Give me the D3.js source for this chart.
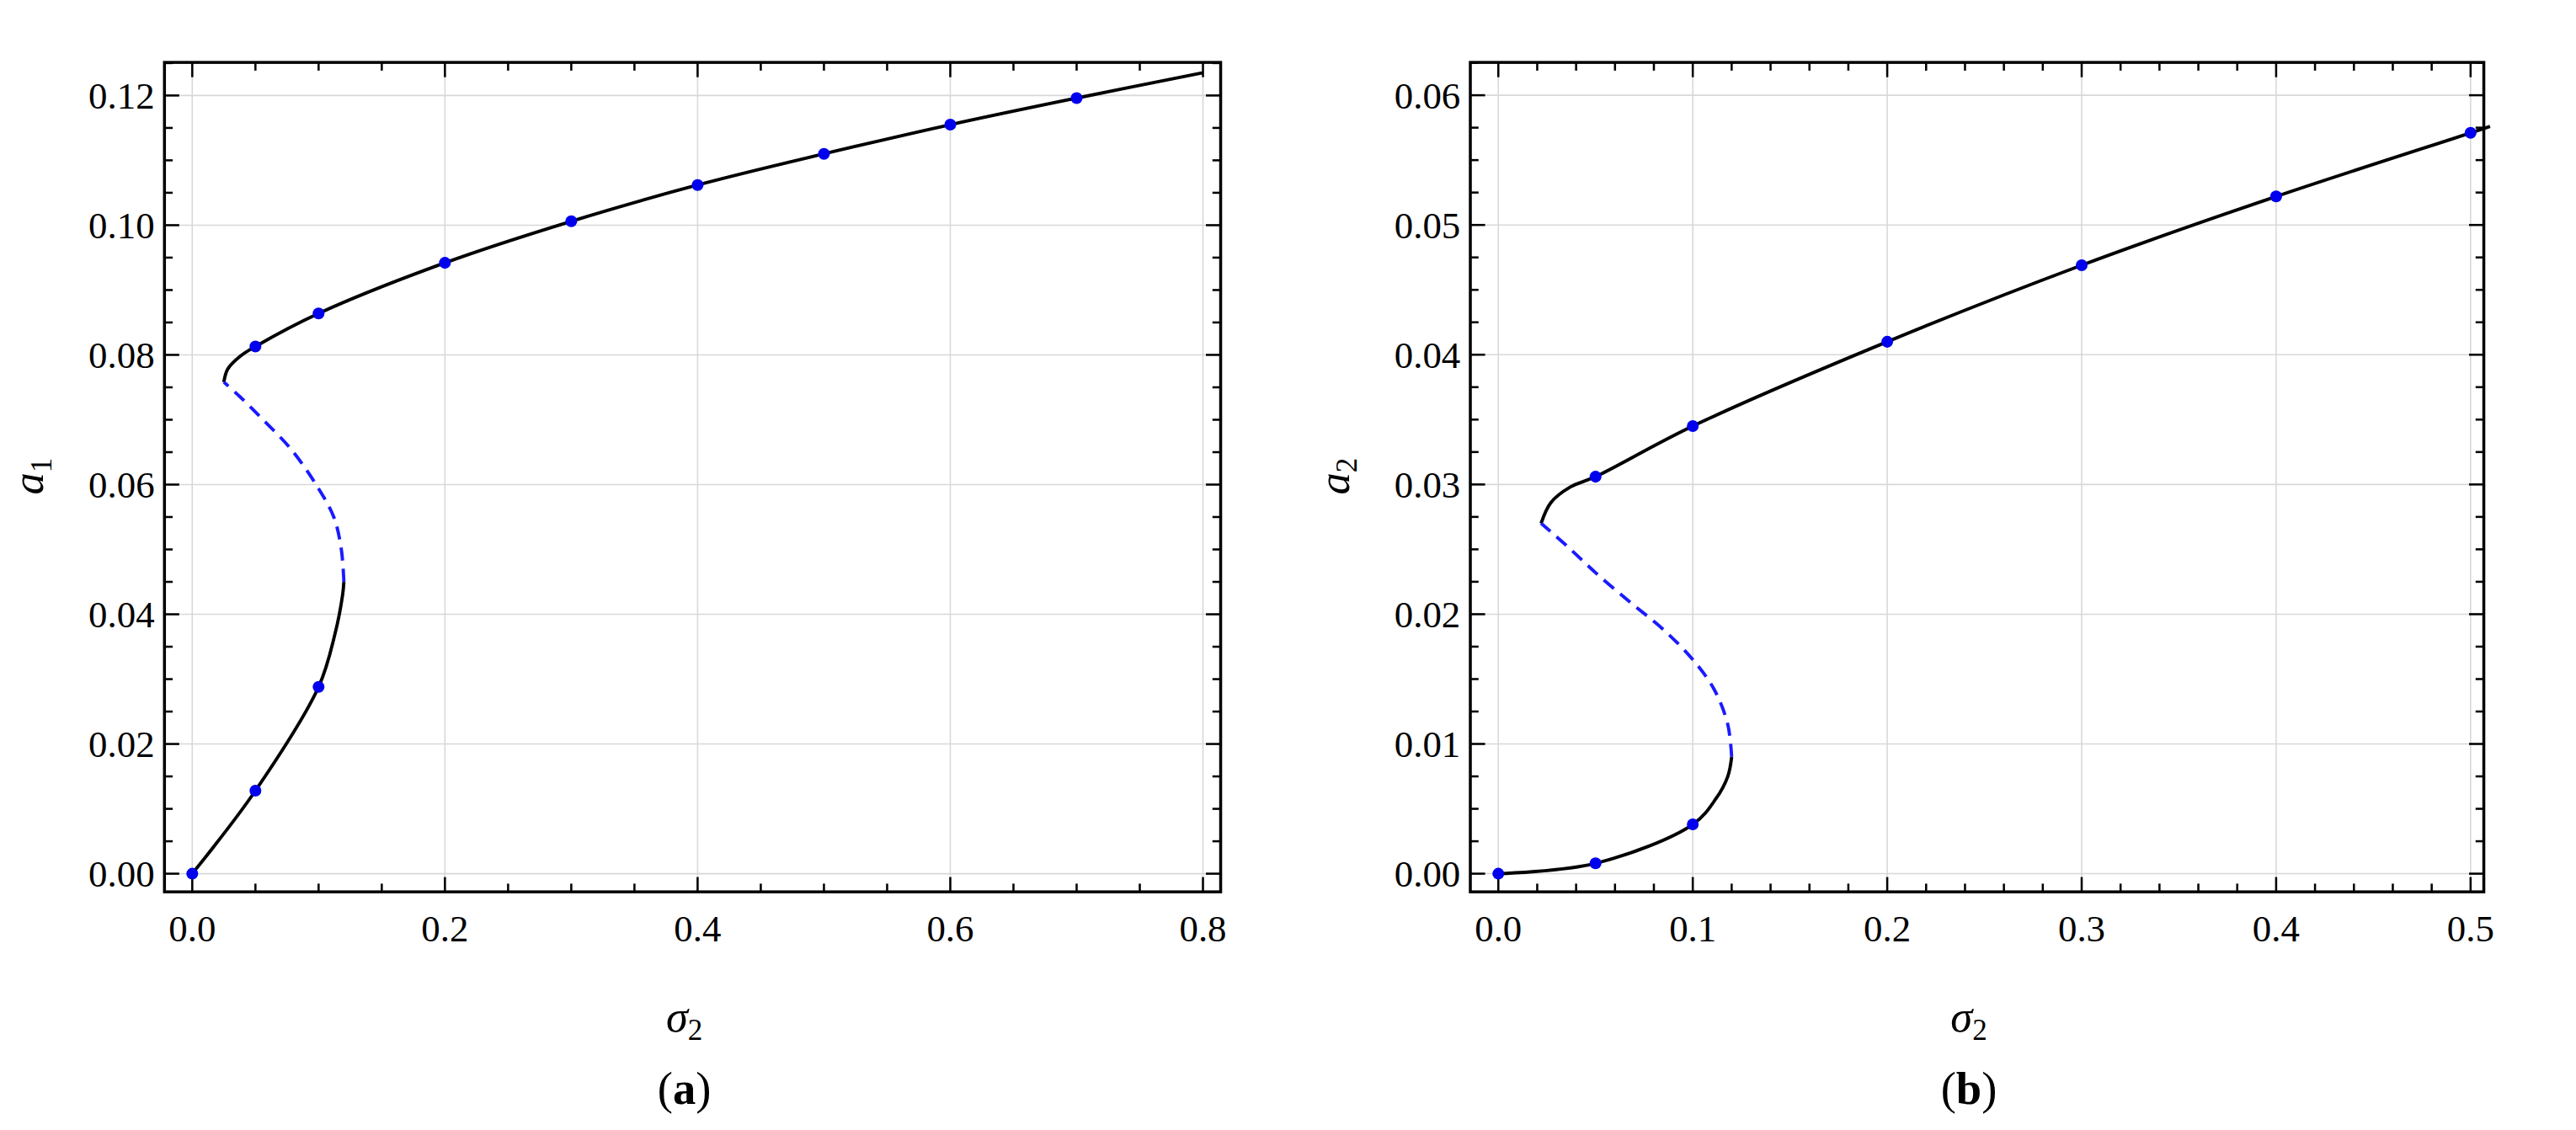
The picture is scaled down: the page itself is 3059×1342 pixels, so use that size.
<!DOCTYPE html>
<html><head><meta charset="utf-8">
<script src="https://cdn.jsdelivr.net/npm/d3@7"></script>
<style>body{margin:0;background:#fff} text{font-family:"Liberation Serif","Times New Roman",Tinos,"DejaVu Serif",serif}</style>
</head><body>
<svg id="fig" width="3059" height="1342" viewBox="0 0 1568 688"></svg>
<script>
// panel (a): a1 vs sigma2
var a1Lower = [[0,0],[0.05,0.0128],[0.1,0.0288],[0.113,0.037],[0.119,0.043],[0.12,0.045]];
var a1Unstable = [[0.12,0.045],[0.118,0.05],[0.112,0.055],[0.098,0.06],[0.078,0.0655],[0.056,0.07],[0.038,0.0735],[0.025,0.0758]];
var a1Upper = [[0.025,0.0758],[0.028,0.0778],[0.038,0.0798],[0.05,0.0813],[0.1,0.0864],[0.2,0.0942],[0.3,0.1006],[0.4,0.1062],[0.5,0.111],[0.6,0.1155],[0.7,0.1196],[0.8,0.1235]];
var a1Points = [[0,0],[0.05,0.0128],[0.1,0.0288],[0.05,0.0813],[0.1,0.0864],[0.2,0.0942],[0.3,0.1006],[0.4,0.1062],[0.5,0.111],[0.6,0.1155],[0.7,0.1196]];
var a1XTicks = [0,0.2,0.4,0.6,0.8];
var a1YTicks = [0,0.02,0.04,0.06,0.08,0.10,0.12];

// panel (b): a2 vs sigma2
var a2Lower = [[0,0],[0.05,0.0008],[0.1,0.0038],[0.112,0.0058],[0.118,0.0075],[0.12,0.009]];
var a2Unstable = [[0.12,0.009],[0.118,0.0115],[0.111,0.0142],[0.1,0.0165],[0.085,0.0188],[0.068,0.0209],[0.05,0.0232],[0.035,0.0253],[0.022,0.027]];
var a2Upper = [[0.022,0.027],[0.027,0.0286],[0.037,0.0298],[0.05,0.0306],[0.1,0.0345],[0.2,0.041],[0.3,0.0469],[0.4,0.0522],[0.5,0.0571],[0.51,0.0576]];
var a2Points = [[0,0],[0.05,0.0008],[0.1,0.0038],[0.05,0.0306],[0.1,0.0345],[0.2,0.041],[0.3,0.0469],[0.4,0.0522],[0.5,0.0571]];
var a2XTicks = [0,0.1,0.2,0.3,0.4,0.5];
var a2YTicks = [0,0.01,0.02,0.03,0.04,0.05,0.06];

var svg = d3.select('#fig');

function panel(o) {
    var x = d3.scaleLinear().domain(o.xd).range([o.left, o.right]);
    var y = d3.scaleLinear().domain(o.yd).range([543, 38]);
    var g = svg.append('g');

    // grid
    o.xt.forEach(function (t) {
        g.append('line').attr('x1', x(t)).attr('x2', x(t)).attr('y1', 38).attr('y2', 543)
            .attr('stroke', '#d8d8d8').attr('stroke-width', 0.8);
    });
    o.yt.forEach(function (t) {
        g.append('line').attr('x1', o.left).attr('x2', o.right).attr('y1', y(t)).attr('y2', y(t))
            .attr('stroke', '#d8d8d8').attr('stroke-width', 0.8);
    });

    // inward ticks on all sides
    var xMinor = d3.range(0, o.xd[1], o.xm);
    var yMinor = d3.range(0, o.yd[1], o.ym);
    xMinor.forEach(function (t) {
        var major = o.xt.some(function (m) { return Math.abs(m - t) < 1e-9; });
        var len = major ? 9 : 5;
        g.append('line').attr('x1', x(t)).attr('x2', x(t)).attr('y1', 543).attr('y2', 543 - len).attr('stroke', '#000').attr('stroke-width', 1.3);
        g.append('line').attr('x1', x(t)).attr('x2', x(t)).attr('y1', 38).attr('y2', 38 + len).attr('stroke', '#000').attr('stroke-width', 1.3);
    });
    yMinor.forEach(function (t) {
        var major = o.yt.some(function (m) { return Math.abs(m - t) < 1e-9; });
        var len = major ? 9 : 5;
        g.append('line').attr('x1', o.left).attr('x2', o.left + len).attr('y1', y(t)).attr('y2', y(t)).attr('stroke', '#000').attr('stroke-width', 1.3);
        g.append('line').attr('x1', o.right).attr('x2', o.right - len).attr('y1', y(t)).attr('y2', y(t)).attr('stroke', '#000').attr('stroke-width', 1.3);
    });

    g.append('rect').attr('x', o.left).attr('y', 38).attr('width', o.right - o.left).attr('height', 505)
        .attr('fill', 'none').attr('stroke', '#000').attr('stroke-width', 1.8);

    // tick labels
    o.xt.forEach(function (t) {
        g.append('text').attr('x', x(t)).attr('y', 573).attr('text-anchor', 'middle')
            .attr('font-size', 23).text(t.toFixed(1));
    });
    o.yt.forEach(function (t) {
        g.append('text').attr('x', o.left - 6).attr('y', y(t) + 8).attr('text-anchor', 'end')
            .attr('font-size', 23).text(t.toFixed(2));
    });

    var line = d3.line().x(function (d) { return x(d[0]); }).y(function (d) { return y(d[1]); })
        .curve(d3.curveCatmullRom.alpha(0.5));
    g.append('path').attr('d', line(o.lower)).attr('fill', 'none').attr('stroke', '#000').attr('stroke-width', 2);
    g.append('path').attr('d', line(o.upper)).attr('fill', 'none').attr('stroke', '#000').attr('stroke-width', 2);
    g.append('path').attr('d', line(o.unstable)).attr('fill', 'none').attr('stroke', '#1a1aff')
        .attr('stroke-width', 2).attr('stroke-dasharray', '8,5');

    g.selectAll('circle.p').data(o.pts).enter().append('circle')
        .attr('cx', function (d) { return x(d[0]); }).attr('cy', function (d) { return y(d[1]); })
        .attr('r', 3.6).attr('fill', '#0000ee');

    // axis titles
    var cx = (o.left + o.right) / 2;
    var xl = g.append('text').attr('x', cx - 5).attr('y', 628).attr('font-size', 27).attr('text-anchor', 'middle');
    xl.append('tspan').attr('font-style', 'italic').text('σ');
    xl.append('tspan').attr('font-size', 18).attr('dy', 5).text('2');
    var yl = g.append('text').attr('transform', 'translate(' + (o.left - 74) + ',290) rotate(-90)')
        .attr('font-size', 27).attr('text-anchor', 'middle');
    yl.append('tspan').attr('font-style', 'italic').text(o.ylab);
    yl.append('tspan').attr('font-size', 18).attr('dy', 5).text(o.sub);

    var cap = g.append('text').attr('x', cx - 5).attr('y', 672).attr('font-size', 28).attr('text-anchor', 'middle');
    cap.append('tspan').text('(');
    cap.append('tspan').attr('font-weight', 'bold').text(o.tag);
    cap.append('tspan').text(')');
}

panel({left: 100, right: 743, xd: [-0.022, 0.814], yd: [-0.0028, 0.1251], xt: a1XTicks, yt: a1YTicks,
       xm: 0.05, ym: 0.005, lower: a1Lower, upper: a1Upper, unstable: a1Unstable, pts: a1Points, ylab: 'a', sub: '1', tag: 'a'});
panel({left: 895, right: 1512, xd: [-0.0144, 0.5068], yd: [-0.0014, 0.06253], xt: a2XTicks, yt: a2YTicks,
       xm: 0.02, ym: 0.0025, lower: a2Lower, upper: a2Upper, unstable: a2Unstable, pts: a2Points, ylab: 'a', sub: '2', tag: 'b'});
</script>
</body></html>
